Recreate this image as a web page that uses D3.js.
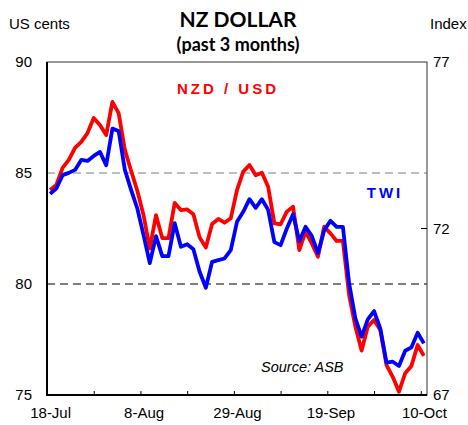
<!DOCTYPE html>
<html>
<head>
<meta charset="utf-8">
<script src="https://cdn.jsdelivr.net/npm/d3@7"></script>
<style>
  html, body { margin: 0; padding: 0; background: #fff; }
  svg { display: block; }
</style>
</head>
<body>
<svg id="chart" width="468" height="425"></svg>
<script>
// ---- Data (weekdays 18-Jul to 10-Oct) ----
const nzdUsd = [84.23, 84.46, 85.23, 85.59, 86.13, 86.4, 86.8, 87.48, 87.16, 86.71,
  88.2, 87.7, 86.04, 85.1, 84.2, 83.1, 81.6, 83.1, 82.07, 82.07,
  83.65, 83.33, 83.36, 83.14, 82.1, 81.64, 82.7, 82.93, 82.76, 82.96,
  84.23, 85.06, 85.36, 84.9, 85.01, 84.38, 82.73, 82.69, 83.26, 83.48,
  81.53, 82.36, 81.83, 81.23, 82.58, 82.28, 81.94, 81.94, 79.5, 78.08,
  77.0, 78.08, 78.38, 77.93, 76.35, 75.82, 75.15, 75.98, 76.31, 77.25, 76.76];
const twi = [73.04, 73.2, 73.6, 73.67, 73.76, 74.06, 74.03, 74.18, 74.3, 73.9,
  75.0, 74.93, 73.76, 73.16, 72.6, 71.8, 70.96, 71.77, 71.17, 71.17,
  72.16, 71.45, 71.53, 71.38, 70.7, 70.22, 71.0, 71.05, 71.1, 71.35,
  72.2, 72.5, 72.88, 72.62, 72.88, 72.56, 71.59, 71.5, 72.0, 72.43,
  71.62, 72.05, 71.78, 71.26, 71.95, 72.23, 72.05, 72.05, 70.35, 69.3,
  68.75, 69.27, 69.52, 69.0, 67.97, 68.0, 67.87, 68.33, 68.43, 68.87, 68.55];
const xLabels = ["18-Jul", "8-Aug", "29-Aug", "19-Sep", "10-Oct"];
const xLabelIndex = [0, 15, 30, 45, 60];
const leftTicks = [75, 80, 85, 90];
const rightTicks = [67, 72, 77];

// ---- Layout ----
const L = 47, R = 427, T = 62, B = 395;
const svg = d3.select("#chart");
const font = "'Liberation Sans', Arial, sans-serif";

const x = d3.scaleLinear().domain([0, nzdUsd.length]).range([L, R]);
const yL = d3.scaleLinear().domain([75, 90]).range([B, T]);
const yR = d3.scaleLinear().domain([67, 77]).range([B, T]);

// gridlines
svg.append("line").attr("x1", L).attr("x2", R).attr("y1", yL(85)).attr("y2", yL(85))
  .attr("stroke", "#7f7f7f").attr("stroke-width", 1.2).attr("stroke-dasharray", "8,5");
svg.append("line").attr("x1", L).attr("x2", R).attr("y1", yL(80)).attr("y2", yL(80))
  .attr("stroke", "#000").attr("stroke-width", 1.2).attr("stroke-dasharray", "8,5");

// frame
svg.append("rect").attr("x", L).attr("y", T).attr("width", R - L).attr("height", B - T)
  .attr("fill", "none").attr("stroke", "#333").attr("stroke-width", 1);

// lines
const lineL = d3.line().x((d, i) => x(i + 0.5)).y(d => yL(d));
const lineR = d3.line().x((d, i) => x(i + 0.5)).y(d => yR(d));
svg.append("path").datum(nzdUsd).attr("d", lineL).attr("fill", "none")
  .attr("stroke", "#ff0000").attr("stroke-width", 3.8).attr("stroke-linejoin", "round");
svg.append("path").datum(twi).attr("d", lineR).attr("fill", "none")
  .attr("stroke", "#0000ff").attr("stroke-width", 3.8).attr("stroke-linejoin", "round");

// axes
const gl = svg.append("g").attr("transform", `translate(${L},0)`)
  .call(d3.axisLeft(yL).tickValues(leftTicks).tickSize(0).tickPadding(15));
const gr = svg.append("g").attr("transform", `translate(${R},0)`)
  .call(d3.axisRight(yR).tickValues(rightTicks).tickSize(0).tickPadding(6));
// right inward tick at 72
svg.append("line").attr("x1", R - 6).attr("x2", R).attr("y1", yR(72)).attr("y2", yR(72))
  .attr("stroke", "#000").attr("stroke-width", 1);

const minorTicks = d3.range(0, 9).map(k => k * 7.5);
const gbt = svg.append("g").attr("transform", `translate(0,${B})`)
  .call(d3.axisBottom(x).tickValues(minorTicks).tickSize(-4).tickFormat(""));
const gbl = svg.append("g").attr("transform", `translate(0,${B})`)
  .call(d3.axisBottom(x).tickValues(xLabelIndex.map(i => i + 0.5)).tickSize(0).tickPadding(12)
    .tickFormat((d, i) => xLabels[i]));
gbl.selectAll("text").attr("dy", "0.71em");

[gl, gr, gbt, gbl].forEach(g => {
  g.select(".domain").remove();
  g.selectAll("text").attr("font-family", font).attr("font-size", 15).attr("fill", "#000");
  g.selectAll("line").attr("stroke", "#000");
});

// thick left & bottom axis lines
svg.append("line").attr("x1", L).attr("x2", L).attr("y1", T).attr("y2", B + 1)
  .attr("stroke", "#000").attr("stroke-width", 2);
svg.append("line").attr("x1", L - 1).attr("x2", R).attr("y1", B).attr("y2", B)
  .attr("stroke", "#000").attr("stroke-width", 2);

// titles
svg.append("text").attr("x", 238).attr("y", 27).attr("text-anchor", "middle")
  .attr("font-family", "Lato, 'Open Sans', sans-serif").attr("font-weight", "bold")
  .attr("font-size", 21).text("NZ DOLLAR");
svg.append("text").attr("x", 238).attr("y", 51).attr("text-anchor", "middle")
  .attr("font-family", "Lato, 'Open Sans', sans-serif").attr("font-weight", "bold")
  .attr("font-size", 18).text("(past 3 months)");
svg.append("text").attr("x", 9).attr("y", 29).attr("font-family", font)
  .attr("font-size", 15).text("US cents");
svg.append("text").attr("x", 430).attr("y", 29).attr("font-family", font)
  .attr("font-size", 15).text("Index");

// series labels
svg.append("text").attr("x", 228).attr("y", 94).attr("text-anchor", "middle")
  .attr("font-family", font).attr("font-weight", "bold").attr("font-size", 15)
  .attr("letter-spacing", 3).attr("fill", "#ff0000").text("NZD / USD");
svg.append("text").attr("x", 385).attr("y", 198).attr("text-anchor", "middle")
  .attr("font-family", font).attr("font-weight", "bold").attr("font-size", 15)
  .attr("letter-spacing", 3).attr("fill", "#0000ff").text("TWI");
svg.append("text").attr("x", 261).attr("y", 372)
  .attr("font-family", font).attr("font-style", "italic").attr("font-size", 14.5)
  .text("Source: ASB");
</script>
</body>
</html>
